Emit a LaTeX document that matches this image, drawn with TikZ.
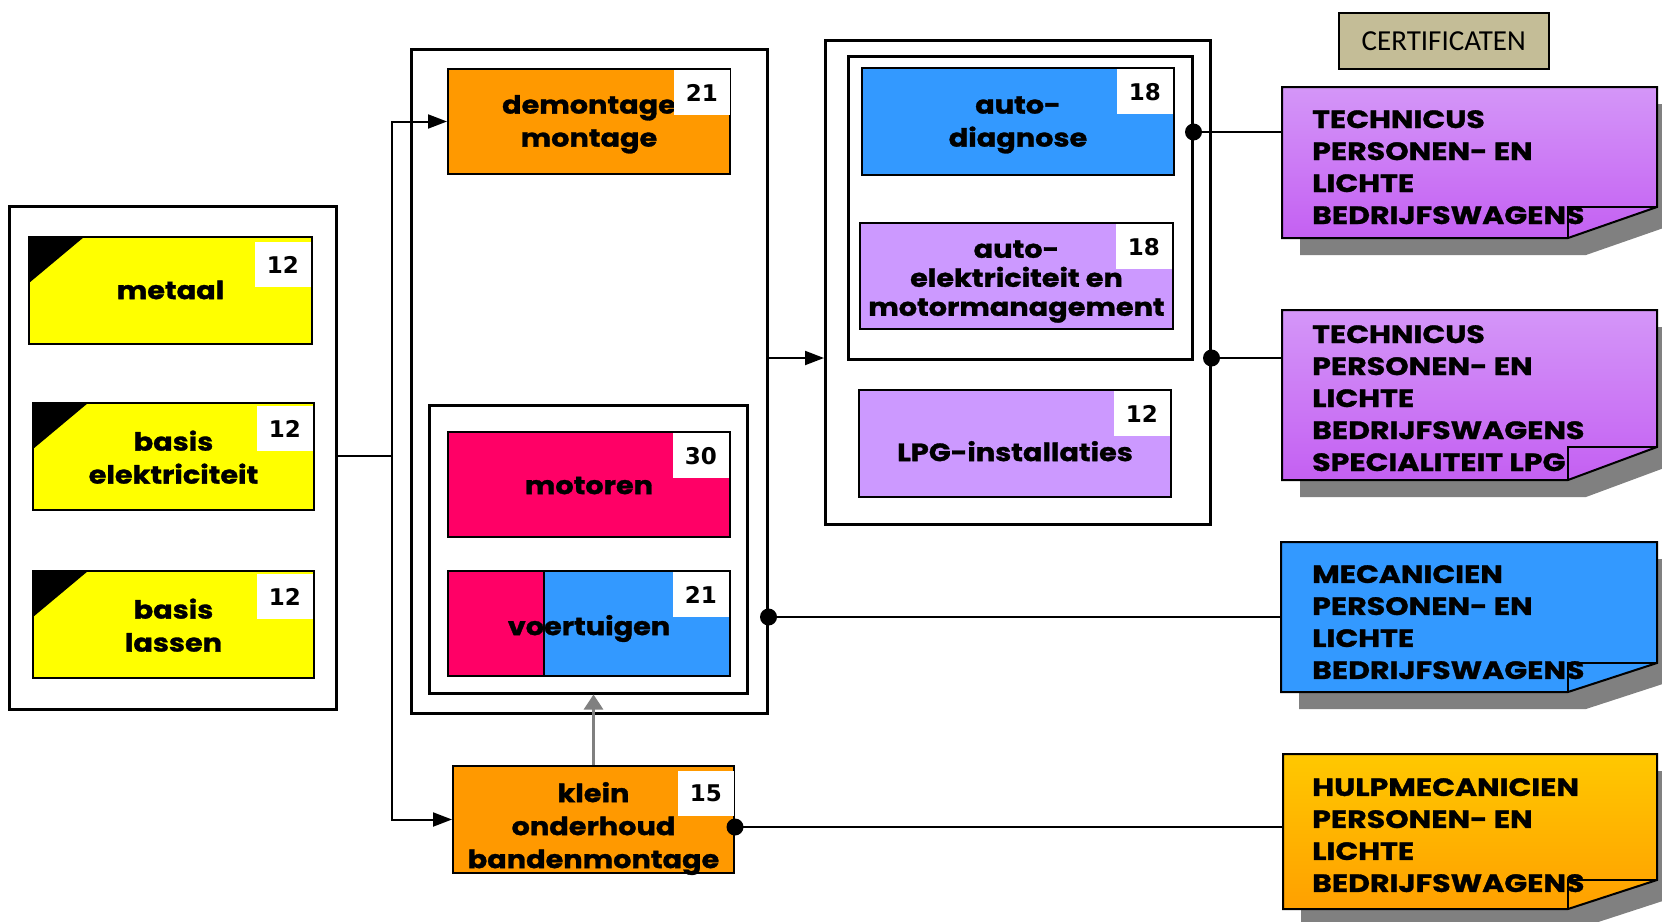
\documentclass[tikz,border=0pt]{standalone}
\usepackage{fontspec}
\setmainfont{Poppins}
\newfontfamily\heavyfont{Poppins}[FakeStretch=1.15,FakeBold=1.2]
\newfontfamily\cardfont{Poppins}[FakeStretch=1.2,FakeBold=1.2]
\newfontfamily\numfont{DejaVu Sans}
\newfontfamily\certfont{Carlito}
\usetikzlibrary{arrows.meta,calc}
\definecolor{myyellow}{HTML}{FFFF00}
\definecolor{myorange}{HTML}{FF9900}
\definecolor{myred}{HTML}{FF0066}
\definecolor{myblue}{HTML}{3399FF}
\definecolor{mylav}{HTML}{CC99FF}
\definecolor{mytan}{HTML}{C4BD97}
\definecolor{purtop}{RGB}{212,150,248}
\definecolor{purbot}{RGB}{196,96,242}
\definecolor{orgtop}{RGB}{255,200,0}
\definecolor{orgbot}{RGB}{255,160,0}
\definecolor{shadowc}{RGB}{128,128,128}
\newcommand\modtext{\heavyfont\bfseries\fontsize{25}{33}\selectfont}
\newcommand\cardtext{\cardfont\bfseries\fontsize{25}{32}\selectfont}
\newcommand\mtext[2]{\raisebox{-#1}[\height][\depth]{\begin{tabular}{@{}c@{}}#2\end{tabular}}}
\begin{document}
\begin{tikzpicture}[x=1pt,y=-1pt,
  grp/.style={draw=black, line width=2.5pt, anchor=north west, inner sep=0},
  module/.style={draw=black, line width=2pt, anchor=north west, inner sep=0, align=center, font=\modtext},
  yelmod/.style={module, fill=myyellow, path picture={\fill[black] (path picture bounding box.north west) -- ([xshift=55pt]path picture bounding box.north west) -- ([yshift=-46pt]path picture bounding box.north west) -- cycle;}},
  badge/.style={fill=white, anchor=north east, minimum width=56pt, minimum height=45pt, inner sep=0, font=\numfont\bfseries\fontsize{23}{23}\selectfont},
  conn/.style={line width=2pt},
  arr/.style={conn, -{Triangle[length=19pt,width=14pt]}},
  grayarr/.style={line width=3pt, draw=gray, -{Triangle[length=15pt,width=19pt]}},
  dot/.style={circle, fill=black, inner sep=0, minimum size=17pt},
  cardline/.style={line width=2pt, draw=black},
  cardtxt/.style={anchor=north west, inner sep=0, align=left, font=\cardtext}
]
\useasboundingbox (0,0) rectangle (1662,921);

% ---------- group boxes
\node[grp, minimum width=327pt, minimum height=503pt] (leftgrp) at (8,205) {};
\node[grp, minimum width=356pt, minimum height=664pt] (midgrp) at (410,48) {};
\node[grp, minimum width=318pt, minimum height=288pt] (midinner) at (428,404) {};
\node[grp, minimum width=385pt, minimum height=484pt] (rightgrp) at (824,39) {};
\node[grp, minimum width=344pt, minimum height=303pt] (rightinner) at (847,55) {};

% ---------- modules
\node[yelmod, minimum width=283pt, minimum height=107pt] (metaal) at (28,236) {\mtext{2pt}{metaal}};
\node[yelmod, minimum width=281pt, minimum height=107pt] (belek) at (32,402) {\mtext{4pt}{basis\\elektriciteit}};
\node[yelmod, minimum width=281pt, minimum height=107pt] (blassen) at (32,570) {\mtext{4pt}{basis\\lassen}};
\node[module, fill=myorange, minimum width=282pt, minimum height=105pt] (demont) at (447,68) {\mtext{2pt}{demontage\\montage}};
\node[module, fill=myred, minimum width=282pt, minimum height=105pt] (motoren) at (447,431) {\mtext{3pt}{motoren}};
\node[module, fill=myblue, minimum width=282pt, minimum height=105pt,
  path picture={\fill[myred] (path picture bounding box.north west) rectangle ([xshift=96pt]path picture bounding box.south west);
  \draw[line width=1.5pt] ([xshift=96pt]path picture bounding box.north west) -- ([xshift=96pt]path picture bounding box.south west);}] (voert) at (447,570) {\mtext{5pt}{voertuigen}};
\node[module, fill=myorange, minimum width=281pt, minimum height=107pt] (klein) at (452,765) {\mtext{9pt}{klein\\onderhoud\\bandenmontage}};
\node[module, fill=myblue, minimum width=312pt, minimum height=107pt] (diag) at (861,67) {\mtext{2pt}{auto-\\diagnose}};
\node[module, fill=mylav, minimum width=313pt, minimum height=106pt, font=\heavyfont\bfseries\fontsize{25}{29}\selectfont] (elek) at (859,222) {\mtext{5pt}{auto-\\elektriciteit en\\motormanagement}};
\node[module, fill=mylav, minimum width=312pt, minimum height=107pt] (lpg) at (858,389) {\mtext{11pt}{LPG-installaties}};

% ---------- badges
\node[badge] (b1) at ($(metaal.north east)+(-2,6)$) {12};
\node[badge] (b2) at ($(belek.north east)+(-2,4)$) {12};
\node[badge] (b3) at ($(blassen.north east)+(-2,4)$) {12};
\node[badge] (b4) at ($(demont.north east)+(-1,2)$) {21};
\node[badge] (b5) at ($(motoren.north east)+(-2,2)$) {30};
\node[badge] (b6) at ($(voert.north east)+(-2,2)$) {21};
\node[badge] (b7) at ($(klein.north east)+(-1,6)$) {15};
\node[badge] (b8) at ($(diag.north east)+(-2,2)$) {18};
\node[badge] (b9) at ($(elek.north east)+(-2,2)$) {18};
\node[badge] (b10) at ($(lpg.north east)+(-2,2)$) {12};

% ---------- certificates header
\node[draw=black, line width=1.5pt, fill=mytan, anchor=north west, minimum width=210pt, minimum height=56pt, inner sep=0,
  font=\certfont\fontsize{29}{29}\selectfont] (cert) at (1338,12) {CERTIFICATEN};

% ---------- cards
\newcommand\drawcard[7]{%
  \fill[shadowc] (#2+18,#3+17) -- (#4+18,#3+17) -- (#4+18,#6+17) -- (#4-71,#5+17) -- (#2+18,#5+17) -- cycle;
  \path[#7, cardline] (#2,#3) -- (#4,#3) -- (#4,#6) -- (#4-89,#5) -- (#2,#5) -- cycle;
  \draw[line width=1.5pt] (#4,#6) -- (#4-89,#6) -- (#4-89,#5);
  \node[anchor=north west, inner sep=0, minimum width={#4pt-#2pt}, minimum height={#5pt-#3pt}] (#1) at (#2,#3) {};
}
\drawcard{card1}{1282}{87}{1657}{238}{207}{top color=purtop, bottom color=purbot}
\drawcard{card2}{1282}{310}{1657}{480}{447}{top color=purtop, bottom color=purbot}
\drawcard{card3}{1281}{542}{1657}{692}{663}{fill=myblue}
\drawcard{card4}{1283}{754}{1657}{909}{880}{top color=orgtop, bottom color=orgbot}
\node[cardtxt] (t1) at (1312,110) {TECHNICUS\\PERSONEN- EN\\LICHTE\\BEDRIJFSWAGENS};
\node[cardtxt] (t2) at (1312,325) {TECHNICUS\\PERSONEN- EN\\LICHTE\\BEDRIJFSWAGENS\\SPECIALITEIT LPG};
\node[cardtxt] (t3) at (1312,565) {MECANICIEN\\PERSONEN- EN\\LICHTE\\BEDRIJFSWAGENS};
\node[cardtxt] (t4) at (1312,778) {HULPMECANICIEN\\PERSONEN- EN\\LICHTE\\BEDRIJFSWAGENS};

% ---------- connectors
\coordinate (bus) at (392,456);
\draw[conn] (leftgrp.east |- bus) -- (bus);
\draw[arr] (bus) |- (demont.west);
\draw[arr] (bus) |- (klein.west);
\coordinate (m2r) at (midgrp.east |- 0,358);
\draw[arr] (m2r) -- (m2r -| rightgrp.west);
\draw[grayarr] (klein.north) -- (klein.north |- midinner.south);

\coordinate (d1) at (rightinner.east |- 0,132);
\coordinate (d2) at (rightgrp.east |- 0,358);
\coordinate (d3) at (midgrp.east |- 0,617);
\coordinate (d4) at (klein.east |- 0,827);
\draw[conn] (d1) -- (d1 -| card1.west);
\draw[conn] (d2) -- (d2 -| card2.west);
\draw[conn] (d3) -- (d3 -| card3.west);
\draw[conn] (d4) -- (d4 -| card4.west);
\node[dot] (dot1) at (d1) {};
\node[dot] (dot2) at (d2) {};
\node[dot] (dot3) at (d3) {};
\node[dot] (dot4) at (d4) {};
\end{tikzpicture}
\end{document}
